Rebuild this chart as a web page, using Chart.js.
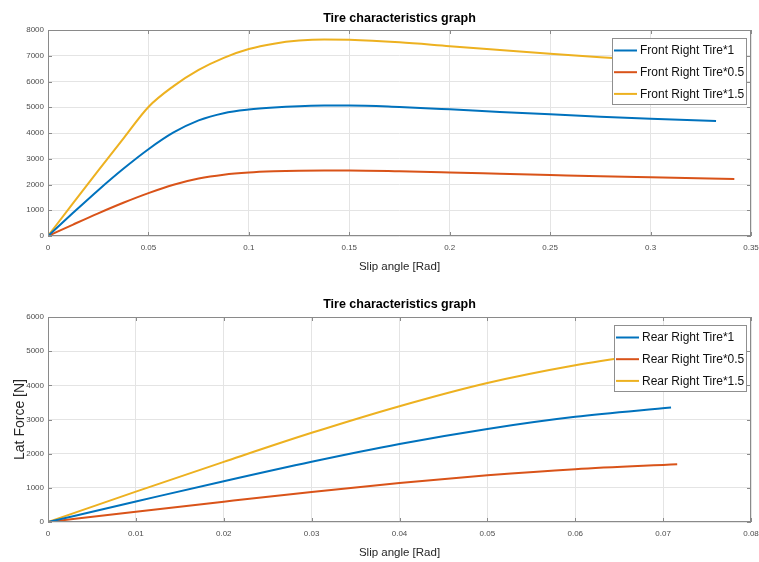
<!DOCTYPE html>
<html><head><meta charset="utf-8">
<script src="https://cdn.jsdelivr.net/npm/chart.js@4.4.1/dist/chart.umd.min.js"></script>
<style>
html,body{margin:0;padding:0;background:#fff;}
#wrap{position:relative;width:759px;height:562px;overflow:hidden;background:#fff;}
.box{position:absolute;left:0;width:759px;}
canvas{display:block;}
</style></head><body>
<div id="wrap">
<div class="box" style="top:0;height:285px"><canvas id="c1" width="759" height="285"></canvas></div>
<div class="box" style="top:285px;height:277px"><canvas id="c2" width="759" height="277"></canvas></div>
</div>
<script>
// ---------------- data ----------------
const chartTitle = 'Tire characteristics graph';
const xTitle = 'Slip angle [Rad]';
const yTitle = 'Lat Force [N]';

const frontLabels = ['Front Right Tire*1', 'Front Right Tire*0.5', 'Front Right Tire*1.5'];
const rearLabels = ['Rear Right Tire*1', 'Rear Right Tire*0.5', 'Rear Right Tire*1.5'];

const frontXTicks = [0, 0.05, 0.1, 0.15, 0.2, 0.25, 0.3, 0.35];
const frontYTicks = [0, 1000, 2000, 3000, 4000, 5000, 6000, 7000, 8000];
const rearXTicks = [0, 0.01, 0.02, 0.03, 0.04, 0.05, 0.06, 0.07, 0.08];
const rearYTicks = [0, 1000, 2000, 3000, 4000, 5000, 6000];

// Front right tire *1
const front1X = [0, 0.0125, 0.025, 0.0375, 0.05, 0.0625, 0.075, 0.0875, 0.1, 0.1125, 0.125, 0.1375, 0.15, 0.175, 0.2, 0.225, 0.25, 0.275, 0.3, 0.3326];
const front1Y = [0, 900, 1780, 2610, 3370, 4020, 4490, 4770, 4910, 4990, 5040, 5065, 5070, 5010, 4920, 4820, 4725, 4635, 4555, 4470];
// Front right tire *0.5
const front05X = [0, 0.0125, 0.025, 0.0375, 0.05, 0.0625, 0.075, 0.0875, 0.1, 0.1125, 0.125, 0.1375, 0.15, 0.175, 0.2, 0.225, 0.25, 0.275, 0.3, 0.3417];
const front05Y = [0, 445, 880, 1290, 1665, 1990, 2230, 2380, 2465, 2510, 2535, 2545, 2545, 2515, 2470, 2420, 2370, 2320, 2278, 2210];
// Front right tire *1.5
const front15X = [0, 0.0125, 0.025, 0.0375, 0.05, 0.0625, 0.075, 0.0875, 0.1, 0.1125, 0.125, 0.1375, 0.15, 0.175, 0.2, 0.225, 0.25, 0.275, 0.3, 0.333];
const front15Y = [0, 1280, 2540, 3780, 5010, 5820, 6450, 6920, 7260, 7470, 7590, 7635, 7620, 7520, 7370, 7225, 7080, 6945, 6830, 6700];

// Rear right tire *1
const rear1X = [0, 0.01, 0.02, 0.03, 0.04, 0.05, 0.06, 0.0709];
const rear1Y = [0, 600, 1195, 1765, 2285, 2725, 3080, 3350];
// Rear right tire *0.5
const rear05X = [0, 0.01, 0.02, 0.03, 0.04, 0.05, 0.06, 0.0716];
const rear05Y = [0, 300, 595, 880, 1140, 1365, 1545, 1690];
// Rear right tire *1.5
const rear15X = [0, 0.01, 0.02, 0.03, 0.04, 0.05, 0.06, 0.0705];
const rear15Y = [0, 890, 1760, 2610, 3390, 4070, 4590, 5010];

// ---------------- styling ----------------
const COLORS = ['#0072BD', '#D95319', '#EDB120'];
const REG = "'Liberation Sans', Arial, Helvetica, sans-serif";
const TITLE_SIZE = 12.5;
const XTITLE_SIZE = 11.5;
const YTITLE_SIZE = 14;
const TICK_SIZE = 8;
const LEGEND_SIZE = 12;
const GRID = '#e4e4e4';
const AXIS = '#8a8a8a';
const TICK_COLOR = '#4d4d4d';

const pts = (xs, ys) => xs.map((x, i) => ({x: x, y: ys[i]}));
const fmt = v => String(+(+v).toFixed(4));

function makeDatasets(labels, series) {
  return labels.map((lab, i) => ({
    label: lab,
    data: pts(series[i][0], series[i][1]),
    borderColor: COLORS[i],
    backgroundColor: COLORS[i],
    borderWidth: 2,
    pointRadius: 0,
    fill: false,
    cubicInterpolationMode: 'monotone',
    borderCapStyle: 'butt'
  }));
}

const framePlugin = {
  id: 'frame',
  afterDatasetsDraw(chart) {
    const {ctx, chartArea: a, scales} = chart;
    const x = scales.x, y = scales.y;
    ctx.save();
    ctx.strokeStyle = AXIS;
    ctx.lineWidth = 1;
    ctx.beginPath();
    x.ticks.forEach(t => {
      const px = Math.round(x.getPixelForValue(t.value)) + 0.5;
      ctx.moveTo(px, a.bottom); ctx.lineTo(px, a.bottom - 4);
      ctx.moveTo(px, a.top); ctx.lineTo(px, a.top + 4);
    });
    y.ticks.forEach(t => {
      const py = Math.round(y.getPixelForValue(t.value)) + 0.5;
      ctx.moveTo(a.left, py); ctx.lineTo(a.left + 4, py);
      ctx.moveTo(a.right, py); ctx.lineTo(a.right - 4, py);
    });
    ctx.stroke();
    ctx.strokeRect(Math.round(a.left) + 0.5, Math.round(a.top) + 0.5,
                   Math.round(a.right - a.left) - 1, Math.round(a.bottom - a.top) - 1);
    ctx.restore();
  }
};

const boxLegend = {
  id: 'boxLegend',
  afterDraw(chart) {
    const {ctx, chartArea: a} = chart;
    const ds = chart.data.datasets;
    ctx.save();
    ctx.font = LEGEND_SIZE + 'px ' + REG;
    const tw = Math.max.apply(null, ds.map(d => ctx.measureText(d.label).width));
    const w = Math.round(28 + tw + 1.5);
    const h = 66;
    const right = Math.round(a.right - 5);
    const left = right - w;
    const top = Math.round(a.top + 8);
    ctx.fillStyle = '#ffffff';
    ctx.fillRect(left, top, w, h);
    ctx.strokeStyle = '#8f8f8f';
    ctx.lineWidth = 1;
    ctx.strokeRect(left + 0.5, top + 0.5, w, h);
    ds.forEach((d, i) => {
      const yy = top + 12.5 + 21.7 * i;
      ctx.strokeStyle = d.borderColor;
      ctx.lineWidth = 2;
      ctx.beginPath();
      ctx.moveTo(left + 2, yy);
      ctx.lineTo(left + 25, yy);
      ctx.stroke();
      ctx.fillStyle = '#111';
      ctx.textBaseline = 'middle';
      ctx.textAlign = 'left';
      ctx.fillText(d.label, left + 28, yy + 0.5);
    });
    ctx.restore();
  }
};

function makeChart(canvasId, cfg) {
  const H = cfg.height;
  const lhT = TITLE_SIZE * 1.2;
  const lhX = XTITLE_SIZE * 1.2;
  const lhY = YTITLE_SIZE * 1.2;
  return new Chart(document.getElementById(canvasId), {
    type: 'line',
    data: {datasets: makeDatasets(cfg.labels, cfg.series)},
    options: {
      responsive: false,
      animation: false,
      devicePixelRatio: 1,
      layout: {padding: 0},
      plugins: {
        legend: {display: false},
        tooltip: {enabled: false},
        title: {
          display: true,
          text: chartTitle,
          fullSize: false,
          color: '#000',
          font: {family: REG, size: TITLE_SIZE, weight: 'bold', lineHeight: 1.2},
          padding: {top: cfg.titleMid - lhT / 2, bottom: cfg.plotTop - lhT - (cfg.titleMid - lhT / 2)}
        }
      },
      scales: {
        x: {
          type: 'linear',
          min: cfg.xTicks[0],
          max: cfg.xTicks[cfg.xTicks.length - 1],
          afterBuildTicks: s => { s.ticks = cfg.xTicks.map(v => ({value: v})); },
          afterFit: s => { s.height = H - cfg.plotBottom; s.paddingLeft = 0; s.paddingRight = 8; },
          grid: {color: GRID, drawTicks: false, lineWidth: 1},
          border: {display: false},
          ticks: {
            padding: 7,
            color: TICK_COLOR,
            font: {family: REG, size: TICK_SIZE},
            maxRotation: 0,
            autoSkip: false,
            callback: v => fmt(v)
          },
          title: {
            display: true,
            text: xTitle,
            color: '#262626',
            font: {family: REG, size: XTITLE_SIZE, lineHeight: 1.2},
            padding: {top: 0, bottom: (H - cfg.xTitleMid) - lhX / 2}
          }
        },
        y: {
          type: 'linear',
          min: cfg.yTicks[0],
          max: cfg.yTicks[cfg.yTicks.length - 1],
          afterBuildTicks: s => { s.ticks = cfg.yTicks.map(v => ({value: v})); },
          afterFit: s => { s.width = 48; s.paddingTop = 0; s.paddingBottom = 0; },
          grid: {color: GRID, drawTicks: false, lineWidth: 1},
          border: {display: false},
          ticks: {
            padding: 4,
            color: TICK_COLOR,
            font: {family: REG, size: TICK_SIZE},
            autoSkip: false,
            callback: v => fmt(v)
          },
          title: {
            display: !!cfg.yTitle,
            text: cfg.yTitle || '',
            color: '#262626',
            font: {family: REG, size: YTITLE_SIZE, lineHeight: 1.2},
            padding: {top: 20 - lhY / 2, bottom: 0}
          }
        }
      }
    },
    plugins: [framePlugin, boxLegend]
  });
}

makeChart('c1', {
  height: 285,
  labels: frontLabels,
  series: [[front1X, front1Y], [front05X, front05Y], [front15X, front15Y]],
  xTicks: frontXTicks, yTicks: frontYTicks,
  titleMid: 19, plotTop: 30, plotBottom: 236, xTitleMid: 266.5
});

makeChart('c2', {
  height: 277,
  labels: rearLabels,
  series: [[rear1X, rear1Y], [rear05X, rear05Y], [rear15X, rear15Y]],
  xTicks: rearXTicks, yTicks: rearYTicks, yTitle: yTitle,
  titleMid: 20, plotTop: 32, plotBottom: 237, xTitleMid: 268
});
</script>
</body></html>
